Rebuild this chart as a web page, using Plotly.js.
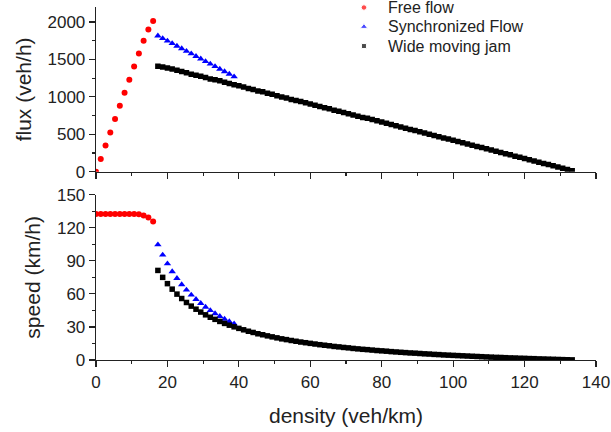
<!DOCTYPE html>
<html>
<head>
<meta charset="utf-8">
<script src="https://cdn.plot.ly/plotly-3.0.1.min.js"></script>
<style>
html,body{margin:0;padding:0;background:#fff;}
#chart{width:611px;height:432px;}
</style>
</head>
<body>
<div id="chart"></div>
<script>
// ---- data ----
var freeDensity = [0, 1.33, 2.67, 4, 5.33, 6.67, 8, 9.33, 10.67, 12, 13.33, 14.67, 16];
var freeFlux = [0, 172, 350, 524, 706, 880, 1054, 1228, 1404, 1578, 1748, 1898, 2014];
var freeSpeed = [132.5, 132.5, 132.5, 132.5, 132.5, 132.5, 132.5, 132.5, 132.5, 132.3, 131.2, 129.4, 125.8];

var syncDensity = [17.33, 18.67, 20, 21.33, 22.67, 24, 25.33, 26.67, 28, 29.33, 30.67, 32, 33.33, 34.67, 36, 37.33, 38.67];
var syncFlux = [1815, 1781, 1747, 1713, 1679, 1645, 1610, 1576, 1542, 1508, 1474, 1440, 1406, 1372, 1338, 1304, 1270];
var syncSpeed = [104.7, 95.4, 87.4, 80.3, 74.1, 68.5, 63.6, 59.1, 55.1, 51.4, 48.1, 45.0, 42.2, 39.6, 37.2, 34.9, 32.8];

var jamDensity = [17.33, 18.67, 20, 21.33, 22.67, 24, 25.33, 26.67, 28, 29.33, 30.67, 32, 33.33, 34.67, 36, 37.33, 38.67,
  40, 41.33, 42.67, 44, 45.33, 46.67, 48, 49.33, 50.67, 52, 53.33, 54.67, 56, 57.33, 58.67, 60, 61.33, 62.67, 64, 65.33,
  66.67, 68, 69.33, 70.67, 72, 73.33, 74.67, 76, 77.33, 78.67, 80, 81.33, 82.67, 84, 85.33, 86.67, 88, 89.33, 90.67, 92,
  93.33, 94.67, 96, 97.33, 98.67, 100, 101.33, 102.67, 104, 105.33, 106.67, 108, 109.33, 110.67, 112, 113.33, 114.67, 116,
  117.33, 118.67, 120, 121.33, 122.67, 124, 125.33, 126.67, 128, 129.33, 130.67, 132, 133.33];
var jamFlux = [1410, 1400, 1386, 1372, 1356, 1338, 1322, 1303, 1290, 1276, 1258, 1240, 1230, 1215, 1196, 1180, 1163,
  1147, 1131, 1112, 1098, 1080, 1068, 1050, 1034, 1016, 1000, 984, 966, 952, 937, 920, 904, 888, 872, 856, 840,
  823, 807, 790, 774, 758, 742, 726, 715, 698, 680, 664, 647, 631, 615, 598, 582, 566, 550, 533, 517,
  501, 485, 468, 452, 436, 420, 404, 388, 371, 355, 339, 323, 306, 290, 274, 258, 242, 226,
  209, 193, 177, 161, 145, 128, 112, 96, 80, 64, 47, 31, 15];
var jamSpeed = [81.3, 75.0, 69.3, 64.3, 59.8, 55.8, 52.2, 48.9, 46.1, 43.5, 41.0, 38.8, 36.9, 35.0, 33.2, 31.6, 30.1,
  28.7, 27.4, 26.1, 25.0, 23.8, 22.9, 21.9, 21.0, 20.1, 19.2, 18.5, 17.7, 17.0, 16.3, 15.7, 15.1, 14.5, 13.9, 13.4, 12.9,
  12.3, 11.9, 11.4, 11.0, 10.5, 10.1, 9.7, 9.4, 9.0, 8.6, 8.3, 8.0, 7.6, 7.3, 7.0, 6.7, 6.4, 6.2, 5.9, 5.6,
  5.4, 5.1, 4.9, 4.6, 4.4, 4.2, 4.0, 3.8, 3.6, 3.4, 3.2, 3.0, 2.8, 2.6, 2.4, 2.3, 2.1, 1.9,
  1.8, 1.6, 1.5, 1.3, 1.2, 1.0, 0.9, 0.76, 0.63, 0.49, 0.36, 0.23, 0.11];

var seriesNames = ['Free flow', 'Synchronized Flow', 'Wide moving jam'];
var xTicks = [0, 20, 40, 60, 80, 100, 120, 140];

// ---- style ----
var FONT = 'Liberation Sans, Arial, Helvetica, sans-serif';
var seriesColors = ['#ff0000', '#0000ff', '#000000'];
var seriesSymbols = ['circle', 'triangle-up', 'square'];
var seriesSizes = [6, 6.5, 5.5];
var legendSizes = [5.5, 6.5, 5];

function mk(i) { return {color: seriesColors[i], symbol: seriesSymbols[i], size: seriesSizes[i]}; }

var traces = [
  {x: freeDensity, y: freeFlux, name: seriesNames[0], mode: 'markers', marker: mk(0), xaxis: 'x', yaxis: 'y'},
  {x: syncDensity, y: syncFlux, name: seriesNames[1], mode: 'markers', marker: mk(1), xaxis: 'x', yaxis: 'y'},
  {x: jamDensity, y: jamFlux, name: seriesNames[2], mode: 'markers', marker: mk(2), xaxis: 'x', yaxis: 'y'},
  {x: freeDensity, y: freeSpeed, name: seriesNames[0], mode: 'markers', marker: mk(0), xaxis: 'x2', yaxis: 'y2'},
  {x: syncDensity, y: syncSpeed, name: seriesNames[1], mode: 'markers', marker: mk(1), xaxis: 'x2', yaxis: 'y2'},
  {x: jamDensity, y: jamSpeed, name: seriesNames[2], mode: 'markers', marker: mk(2), xaxis: 'x2', yaxis: 'y2'}
];

// Legend: a pixel-positioned overlay axis (x3/y3) holding the symbols, annotations holding the names
var legX = 364, legTextX = 386, legRows = [7.5, 26.8, 46.1];
traces.push({
  x: legRows.map(function () { return legX; }), y: legRows,
  mode: 'markers', xaxis: 'x3', yaxis: 'y3', cliponaxis: false, hoverinfo: 'skip',
  marker: {color: seriesColors, symbol: seriesSymbols, size: legendSizes}
});

var annotations = seriesNames.map(function (n, i) {
  return {x: legTextX, y: legRows[i], xref: 'x3', yref: 'y3', text: n, showarrow: false,
    xanchor: 'left', yanchor: 'middle', font: {family: FONT, size: 16, color: '#222'}};
});

var axCommon = {
  showline: true, linecolor: '#222', linewidth: 1.3, mirror: false,
  showgrid: false, zeroline: false,
  ticks: 'outside', ticklen: 6, tickwidth: 1.2, tickcolor: '#222',
  tickfont: {family: FONT, size: 17, color: '#222'}
};
function ax(extra) { return Object.assign({}, axCommon, extra); }
var minorCommon = {ticklen: 3, ticks: 'outside', tickcolor: '#222', tickwidth: 1.2};

var layout = {
  width: 611, height: 432,
  margin: {l: 95.5, r: 14.5, t: 7, b: 71.5, autoexpand: false},
  paper_bgcolor: '#fff', plot_bgcolor: 'rgba(0,0,0,0)',
  font: {family: FONT, color: '#222'},
  showlegend: false,
  annotations: annotations,
  xaxis: ax({domain: [0, 1], range: [0, 140], anchor: 'y', dtick: 20, tick0: 0, showticklabels: false,
    minor: Object.assign({dtick: 10}, minorCommon)}),
  yaxis: ax({domain: [0.5332, 1], range: [0, 2200], anchor: 'x', dtick: 500, tick0: 0,
    minor: Object.assign({dtick: 250}, minorCommon),
    title: {text: 'flux (veh/h)', font: {family: FONT, size: 21, color: '#222'}, standoff: 10}}),
  xaxis2: ax({domain: [0, 1], range: [0, 140], anchor: 'y2', tickvals: xTicks, ticktext: xTicks.map(String),
    minor: Object.assign({dtick: 10}, minorCommon),
    title: {text: 'density (veh/km)', font: {family: FONT, size: 21, color: '#222'}, standoff: 17}}),
  yaxis2: ax({domain: [0, 0.4682], range: [0, 150], anchor: 'x2', dtick: 30, tick0: 0,
    minor: Object.assign({dtick: 15}, minorCommon),
    title: {text: 'speed (km/h)', font: {family: FONT, size: 21, color: '#222'}, standoff: 10}}),
  xaxis3: {domain: [0, 1], range: [95.5, 596.5], anchor: 'y3', visible: false, fixedrange: true},
  yaxis3: {domain: [0, 1], range: [360.5, 7], anchor: 'x3', visible: false, fixedrange: true}
};

Plotly.newPlot('chart', traces, layout, {displayModeBar: false, staticPlot: true});
</script>
</body>
</html>
